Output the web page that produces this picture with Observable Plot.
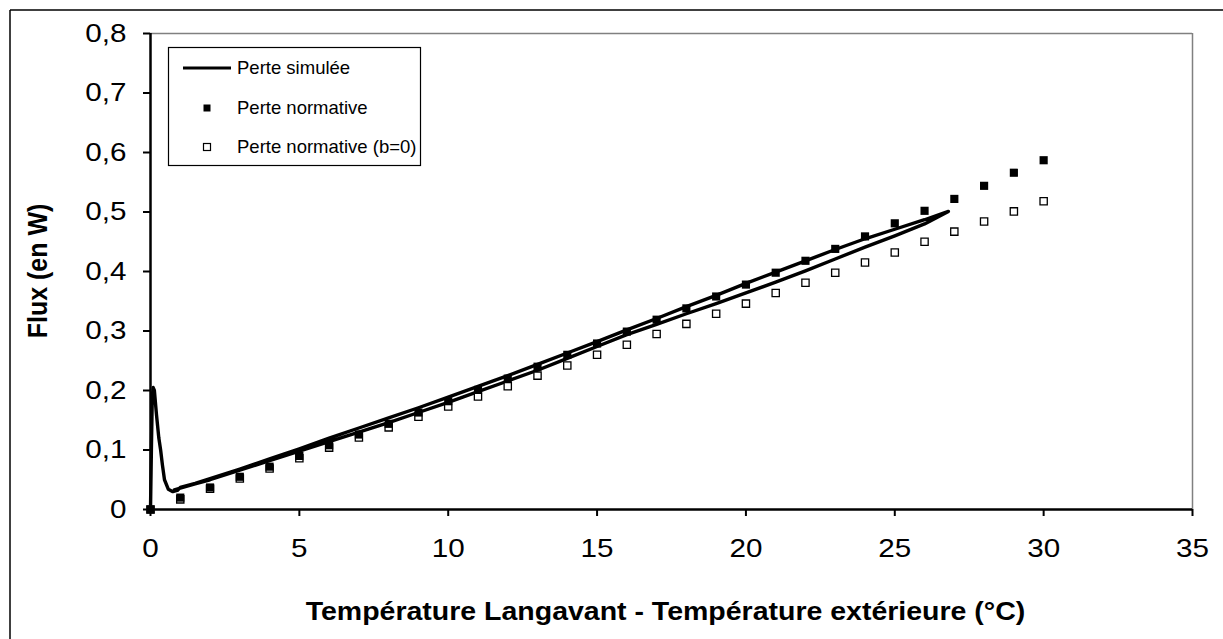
<!DOCTYPE html>
<html><head><meta charset="utf-8">
<script src="https://cdn.jsdelivr.net/npm/d3@7"></script>
<script src="https://cdn.jsdelivr.net/npm/@observablehq/plot@0.6"></script>
<style>
html,body{margin:0;padding:0;background:#fff;}
#chart{position:relative;width:1223px;height:639px;overflow:hidden;}
</style>
</head><body><div id="chart"></div>
<script>
// ---- data ----
const seriesNames = ["Perte simulée", "Perte normative", "Perte normative (b=0)"];
const xTitle = "Température Langavant - Température extérieure (°C)";
const yTitle = "Flux (en W)";
const xTicks = [0, 5, 10, 15, 20, 25, 30, 35];
const yTicks = [0, 0.1, 0.2, 0.3, 0.4, 0.5, 0.6, 0.7, 0.8];

const normX = [0,1,2,3,4,5,6,7,8,9,10,11,12,13,14,15,16,17,18,19,20,21,22,23,24,25,26,27,28,29,30];
const normY = [0,0.020,0.037,0.055,0.072,0.090,0.108,0.126,0.144,0.163,0.182,0.201,0.220,0.240,0.260,0.279,0.299,0.319,0.338,0.358,0.378,0.398,0.418,0.438,0.459,0.481,0.502,0.522,0.544,0.566,0.587];
const normB0Y = [0,0.017,0.035,0.052,0.069,0.086,0.104,0.121,0.138,0.156,0.173,0.190,0.207,0.225,0.242,0.260,0.277,0.295,0.312,0.329,0.346,0.364,0.381,0.398,0.415,0.432,0.450,0.467,0.484,0.501,0.518];

const simX = [0,0.03,0.06,0.09,0.13,0.2,0.28,0.34,0.4,0.47,0.6,0.75,0.9,1,1.5,2,3,4,5,6,7,8,9,10,11,12,13,14,15,16,17,18,19,20,21,22,23,24,25,26,26.8,
              26,25,24,23,22,21,20,19,18,17,16,15,14,13,12,11,10,9,8,7,6,5,4,3,2,1.5,1,0.8];
const simY = [0,0.10,0.19,0.205,0.20,0.16,0.12,0.10,0.075,0.05,0.034,0.030,0.032,0.037,0.044,0.052,0.068,0.085,0.102,0.120,0.137,0.154,0.171,0.189,0.207,0.225,0.244,0.263,0.282,0.302,0.321,0.341,0.360,0.380,0.399,0.418,0.437,0.455,0.471,0.487,0.501,
              0.480,0.460,0.441,0.421,0.401,0.382,0.364,0.346,0.329,0.311,0.294,0.274,0.254,0.234,0.216,0.198,0.180,0.163,0.146,0.130,0.114,0.098,0.082,0.066,0.050,0.043,0.036,0.033];

// ---- build ----
const sim = simX.map((x, i) => ({x, y: simY[i]}));
const norm = normX.map((x, i) => ({x, y: normY[i]}));
const normB0 = normX.map((x, i) => ({x, y: normB0Y[i]}));
const fmt = d => String(d).replace(".", ",");
const FONT = "'Liberation Sans', Arial, sans-serif";
const SX = 1.14; // horizontal text stretch seen in the reference axes

const plot = Plot.plot({
  width: 1223, height: 639,
  marginLeft: 150, marginRight: 31, marginTop: 33, marginBottom: 130,
  style: {fontFamily: FONT, background: "#fff", color: "#000", overflow: "visible"},
  x: {domain: [0, 35], label: null},
  y: {domain: [0, 0.8], label: null},
  marks: [
    Plot.ruleY([0.8], {stroke: "#808080", strokeWidth: 1.5}),
    Plot.ruleX([35], {stroke: "#808080", strokeWidth: 1.5}),
    Plot.axisX({ticks: xTicks, tickFormat: fmt, label: null, tickSize: 7, tickPadding: 22, fontSize: 26, stroke: "#000", strokeWidth: 2, fill: "#000"}),
    Plot.axisY({ticks: yTicks, tickFormat: fmt, label: null, tickSize: 7, tickPadding: 17, fontSize: 26, stroke: "#000", strokeWidth: 2, fill: "#000"}),
    Plot.ruleY([0], {stroke: "#000", strokeWidth: 2.5}),
    Plot.ruleX([0], {stroke: "#000", strokeWidth: 2.5}),
    Plot.line(sim, {x: "x", y: "y", stroke: "#000", strokeWidth: 3.4, strokeLinejoin: "round", strokeLinecap: "round"}),
    Plot.dot(normB0, {x: "x", y: "y", symbol: "square", r: 4.1, fill: "#fff", stroke: "#000", strokeWidth: 1.3}),
    Plot.dot(norm, {x: "x", y: "y", symbol: "square", r: 4.6, fill: "#000", stroke: "none"}),
    Plot.text([xTitle], {frameAnchor: "bottom", text: d => d, dx: -6, dy: 110, fontSize: 25, fontWeight: "bold", fill: "#000"})
  ]
});

const svg = d3.select(plot);
// outer chart frame (only top and left visible in reference)
svg.append("line").attr("x1", 10).attr("y1", 10).attr("x2", 1223).attr("y2", 10).attr("stroke", "#000").attr("stroke-width", 1.5);
svg.append("line").attr("x1", 10).attr("y1", 10).attr("x2", 10).attr("y2", 639).attr("stroke", "#000").attr("stroke-width", 1.5);

// y axis title
svg.append("text").attr("transform", "translate(37,271) rotate(-90)")
  .attr("text-anchor", "middle").attr("dy", "0.36em")
  .attr("font-family", FONT).attr("font-size", 25).attr("font-weight", "bold").attr("fill", "#000")
  .text(yTitle);

document.getElementById("chart").appendChild(plot);

// horizontal stretch of axis texts about their anchor (reference glyphs are wider than Arial)
plot.querySelectorAll("text").forEach(t => {
  const p = t.parentNode;
  const r = t.getBoundingClientRect();
  const anchor = getComputedStyle(t).textAnchor;
  const sx = anchor === "end" ? r.right : anchor === "start" ? r.left : (r.left + r.right) / 2;
  const m = p.getScreenCTM().inverse();
  const pt = plot.createSVGPoint(); pt.x = sx; pt.y = (r.top + r.bottom) / 2;
  const lp = pt.matrixTransform(m);
  const g = document.createElementNS("http://www.w3.org/2000/svg", "g");
  g.setAttribute("transform", `translate(${lp.x},0) scale(${SX},1) translate(${-lp.x},0)`);
  p.insertBefore(g, t);
  g.appendChild(t);
});

// legend (added after the stretch, plain glyphs)
const lg = svg.append("g").attr("font-family", FONT).attr("font-size", 18.5).attr("text-anchor", "start");
lg.append("rect").attr("x", 168.5).attr("y", 47.5).attr("width", 252).attr("height", 118).attr("fill", "#fff").attr("stroke", "#000").attr("stroke-width", 1.2);
const rows = [68, 108, 147];
lg.append("line").attr("x1", 183).attr("x2", 231).attr("y1", rows[0]).attr("y2", rows[0]).attr("stroke", "#000").attr("stroke-width", 3);
lg.append("rect").attr("x", 203.5).attr("y", rows[1] - 3.5).attr("width", 7).attr("height", 7).attr("fill", "#000");
lg.append("rect").attr("x", 203.5).attr("y", rows[2] - 3.5).attr("width", 7).attr("height", 7).attr("fill", "#fff").attr("stroke", "#000").attr("stroke-width", 1.2);
seriesNames.forEach((name, i) => {
  lg.append("text").attr("x", 237).attr("y", rows[i]).attr("dy", "0.35em").attr("fill", "#000").text(name);
});
</script>
</body></html>
